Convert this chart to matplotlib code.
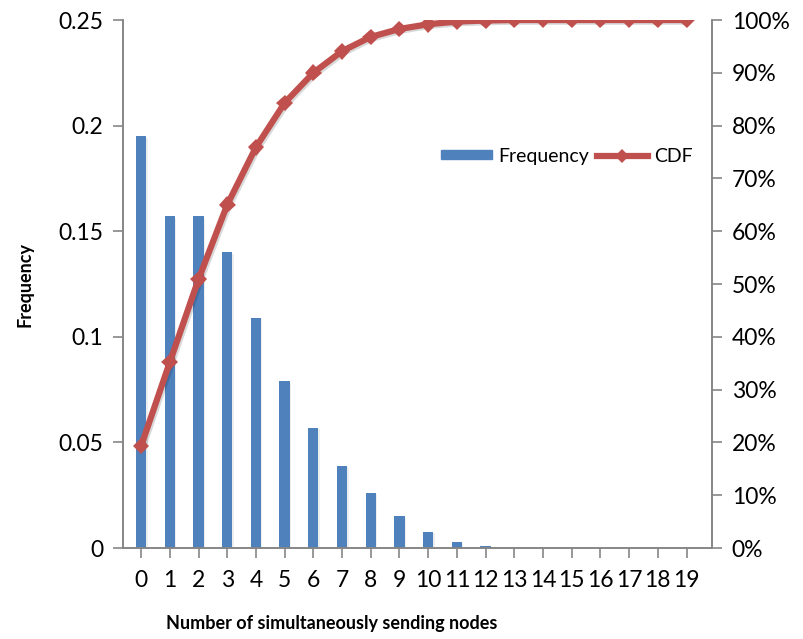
import matplotlib
matplotlib.use("Agg")
import matplotlib.pyplot as plt
import matplotlib.patheffects as pe
from matplotlib.lines import Line2D
from matplotlib.patches import Patch

# Values
nodes = list(range(20))
frequency = [0.195, 0.157, 0.157, 0.140, 0.109, 0.079, 0.057, 0.039, 0.026,
             0.015, 0.0077, 0.003, 0.0008, 0, 0, 0, 0, 0, 0, 0]
cdf = [0.193, 0.352, 0.509, 0.650, 0.759, 0.843, 0.900, 0.941, 0.968, 0.983,
       0.992, 0.997, 0.999, 1.0, 1.0, 1.0, 1.0, 1.0, 1.0, 1.0]
left_ticks = [0, 0.05, 0.1, 0.15, 0.2, 0.25]
left_labels = ["0", "0.05", "0.1", "0.15", "0.2", "0.25"]
right_ticks = [i / 10 for i in range(11)]
right_labels = [f"{i * 10}%" for i in range(11)]

plt.rcParams["font.family"] = ["Lato", "DejaVu Sans"]

BLUE = "#4F81BD"
RED = "#C0504D"
AXIS = "#868686"

fig = plt.figure(figsize=(8.04, 6.39), dpi=100)
ax = fig.add_axes([0.153, 0.1424, 0.733, 0.8263])
ax2 = ax.twinx()

shadow = [pe.SimplePatchShadow(offset=(1, -1), alpha=0.08), pe.Normal()]
ax.bar(nodes, frequency, width=0.36, color=BLUE, path_effects=shadow, zorder=2)
ax2.plot(nodes, cdf, color=RED, lw=4.5, marker="D", ms=8.5, mew=0,
         solid_capstyle="round",
         path_effects=[pe.SimpleLineShadow(offset=(1.2, -1.2), alpha=0.15), pe.Normal()])

ax.set_xlim(-0.63, 19.9)
ax.set_ylim(0, 0.25)
ax2.set_ylim(0, 1)

ax.set_xticks(nodes)
ax.set_xticklabels([str(n) for n in nodes], fontsize=16.5)
ax.set_yticks(left_ticks)
ax.set_yticklabels(left_labels, fontsize=16.5)
ax2.set_yticks(right_ticks)
ax2.set_yticklabels(right_labels, fontsize=16.5)

for a in (ax, ax2):
    a.spines["top"].set_visible(False)
    for s in ("left", "right", "bottom"):
        a.spines[s].set_color(AXIS)
        a.spines[s].set_linewidth(1.2)
    a.tick_params(length=7, width=1.2, color=AXIS, direction="out")
ax.tick_params(axis="x", pad=9)
ax.tick_params(axis="y", pad=7)
ax2.tick_params(axis="y", pad=7)

ax.set_ylabel("Frequency", fontsize=13, fontweight="bold", labelpad=18)
fig.text(0.412, 0.025, "Number of simultaneously sending nodes",
         fontsize=13, fontweight="bold", ha="center", va="center")

handles = [Patch(color=BLUE),
           Line2D([0], [0], color=RED, lw=4.5, marker="D", ms=7, mew=0)]
ax.legend(handles, ["Frequency", "CDF"], loc="center left",
          bbox_to_anchor=(0.51, 0.742), ncol=2, frameon=False, fontsize=14,
          handlelength=2.6, handleheight=0.35, columnspacing=0.4, handletextpad=0.35)

fig.savefig("out.png", dpi=100)
